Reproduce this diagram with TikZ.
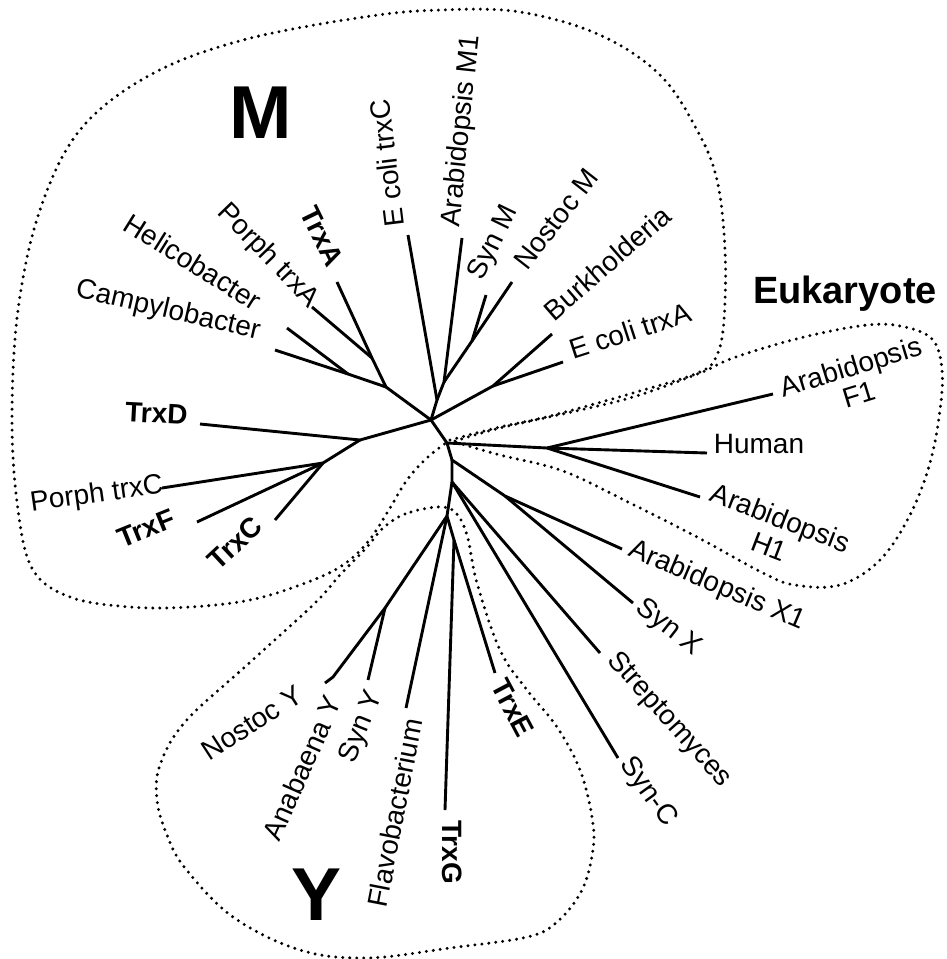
\documentclass[tikz,border=0pt]{standalone}
\usepackage{fontspec}
\setmainfont{Liberation Sans}
\begin{document}
\begin{tikzpicture}[x=1pt,y=-1pt,
  br/.style={line width=2.9pt},
  lab/.style={inner sep=0pt, font=\fontsize{28}{30}\selectfont},
  blab/.style={inner sep=0pt, font=\fontsize{28}{30}\selectfont\bfseries},
  big/.style={inner sep=0pt, font=\fontsize{75}{80}\selectfont\bfseries},
  outline/.style={line width=3.3pt, line cap=round, dash pattern=on 0pt off 7pt}]
\useasboundingbox (0,0) rectangle (946,959);

% ---------- internal nodes ----------
\coordinate (R)  at (431,420);
\coordinate (n1) at (386,387);
\coordinate (h1) at (348,374);
\coordinate (p1) at (372,358);
\coordinate (ec) at (437,400);
\coordinate (am) at (444,382);
\coordinate (ns) at (472,341);
\coordinate (bk) at (493,386);
\coordinate (d1) at (360,440);
\coordinate (c1) at (323,463);
\coordinate (e0) at (447,443);
\coordinate (e1) at (547,448);
\coordinate (x0) at (452,460);
\coordinate (x1) at (505,496);
\coordinate (s0) at (452,482);
\coordinate (y0) at (447,516);
\coordinate (y1) at (385,608);
\coordinate (y2) at (333,677);
\coordinate (g0) at (454,540);

% ---------- leaves ----------
\coordinate (cp)  at (275,350);
\coordinate (hb)  at (287,328);
\coordinate (pta) at (312,307);
\coordinate (ta)  at (337,282);
\coordinate (ect) at (408,235);
\coordinate (am1) at (462,238);
\coordinate (sm)  at (486,295);
\coordinate (nm)  at (512,282);
\coordinate (bur) at (552,334);
\coordinate (eca) at (563,362);
\coordinate (td)  at (200,424);
\coordinate (ptc) at (162,488);
\coordinate (tf)  at (197,522);
\coordinate (tc)  at (275,520);
\coordinate (af1) at (773,394);
\coordinate (hu)  at (707,453);
\coordinate (ah1) at (700,497);
\coordinate (ax1) at (622,549);
\coordinate (sx)  at (633,603);
\coordinate (st)  at (600,653);
\coordinate (sc)  at (618,758);
\coordinate (te)  at (495,673);
\coordinate (tg)  at (445,810);
\coordinate (fl)  at (406,708);
\coordinate (sy)  at (368,680);
\coordinate (ny)  at (325,683);

% ---------- branches ----------
\draw[br] (R) -- (n1);
\draw[br] (n1) -- (h1) -- (cp);
\draw[br] (h1) -- (hb);
\draw[br] (n1) -- (p1) -- (ta);
\draw[br] (p1) -- (pta);
\draw[br] (R) -- (ec) -- (ect);
\draw[br] (ec) -- (am) -- (am1);
\draw[br] (am) -- (ns) -- (nm);
\draw[br] (ns) -- (sm);
\draw[br] (R) -- (bk) -- (bur);
\draw[br] (bk) -- (eca);
\draw[br] (R) -- (d1) -- (td);
\draw[br] (d1) -- (c1) -- (ptc);
\draw[br] (c1) -- (tf);
\draw[br] (c1) -- (tc);
\draw[br] (R) -- (e0) -- (e1) -- (hu);
\draw[br] (e1) -- (af1);
\draw[br] (e1) -- (ah1);
\draw[br] (e0) -- (x0) -- (x1) -- (ax1);
\draw[br] (x1) -- (sx);
\draw[br] (x0) -- (s0) -- (st);
\draw[br] (s0) -- (sc);
\draw[br] (s0) -- (y0) -- (g0) -- (te);
\draw[br] (g0) -- (tg);
\draw[br] (y0) -- (fl);
\draw[br] (y0) -- (y1) -- (y2) -- (ny);
\draw[br] (y1) -- (sy);

% ---------- labels ----------
\node[lab, rotate=-13] (Lcp) at (168,311) {Campylobacter};
\node[lab, rotate=-32] (Lhb) at (193,262) {Helicobacter};
\node[lab, rotate=-46] (Lpta) at (268,256) {Porph trxA};
\node[blab, rotate=-64] (Lta) at (322,236) {TrxA};
\node[lab, rotate=97] (Lect) at (387,163) {E coli trxC};
\node[lab, rotate=84] (Lam1) at (462,131) {Arabidopsis M1};
\node[lab, rotate=64] (Lsm) at (494,243) {Syn M};
\node[lab, rotate=52] (Lnm) at (556,219) {Nostoc M};
\node[lab, rotate=41] (Lbur) at (607,263) {Burkholderia};
\node[lab, rotate=18] (Leca) at (630,331) {E coli trxA};
\node[blab, rotate=-3, anchor=base] (Ltd) at (156,423) {TrxD};
\node[lab, rotate=8] (Lptc) at (97,495) {Porph trxC};
\node[blab, rotate=22] (Ltf) at (146,528) {TrxF};
\node[blab, rotate=43] (Ltc) at (235,543) {TrxC};
\node[lab, align=center, rotate=17, font=\fontsize{28}{29}\selectfont] (Laf1) at (855,380) {Arabidopsis\\F1};
\node[lab, anchor=base] (Lhu) at (759,453) {Human};
\node[lab, align=center, rotate=-21, font=\fontsize{28}{31}\selectfont] (Lah1) at (775,532) {Arabidopsis\\H1};
\node[lab, rotate=-23] (Lax1) at (717,586) {Arabidopsis X1};
\node[lab, rotate=-38] (Lsx) at (668,628) {Syn X};
\node[lab, rotate=-48] (Lst) at (669,720) {Streptomyces};
\node[lab, rotate=-54] (Lsc) at (648,792) {Syn-C};
\node[blab, rotate=-62] (Lte) at (513,708) {TrxE};
\node[blab, rotate=-90] (Ltg) at (452,852) {TrxG};
\node[lab, rotate=79] (Lfl) at (395,813) {Flavobacterium};
\node[lab, rotate=68] (Lsy) at (362,727) {Syn Y};
\node[lab, rotate=66] (Lan) at (302,768) {Anabaena Y};
\node[lab, rotate=33] (Lny) at (252,723) {Nostoc Y};

\node[big, anchor=base] (LM) at (261,138) {M};
\node[big, anchor=base] (LY) at (317,920) {Y};
\node[inner sep=0pt, anchor=base, font=\fontsize{38}{40}\selectfont\bfseries] (LE) at (845,303) {Eukaryote};

% ---------- group outlines ----------
\draw[outline] plot[smooth, tension=0.6] coordinates {
  (450,440) (500,427) (550,416) (640,391) (700,372) (717,355) (724,320)
  (725,250) (717,180) (697,130) (660,75) (600,35) (520,12) (440,10)
  (364,17) (243,40) (150,75) (80,130) (40,210) (18,310) (12,420)
  (18,510) (33,570) (70,597) (130,607) (190,607) (250,600) (300,585)
  (340,567) (367,543) (387,513) (407,480) (428,457) (450,440)};
\draw[outline] plot[smooth, tension=0.6] coordinates {
  (455,441) (500,428) (567,413) (633,397) (700,373) (733,358) (800,338)
  (867,325) (905,327) (933,340) (942,370) (940,410) (930,463) (910,515)
  (880,560) (840,585) (795,585) (763,573) (697,537) (630,503) (563,471)
  (500,455) (455,442)};
\draw[outline] plot[smooth cycle, tension=0.6] coordinates {
  (437,507) (405,514) (383,528) (367,547) (340,575) (313,605) (247,665)
  (185,722) (160,765) (157,800) (167,835) (185,868) (233,917) (300,950)
  (367,958) (450,948) (527,937) (557,922) (582,890) (593,850) (592,817)
  (580,770) (557,727) (527,690) (500,650) (477,583) (467,535) (455,512)};
\end{tikzpicture}
\end{document}
